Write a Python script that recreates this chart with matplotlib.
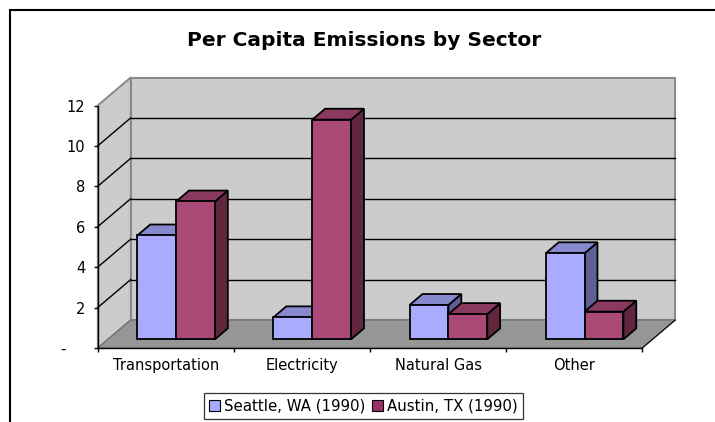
import matplotlib
matplotlib.use("Agg")
import matplotlib.pyplot as plt
from matplotlib.patches import Polygon, Patch, Rectangle
from matplotlib.lines import Line2D

categories = ["Transportation", "Electricity", "Natural Gas", "Other"]
series_names = ["Seattle, WA (1990)", "Austin, TX (1990)"]
seattle = [5.14, 1.09, 1.70, 4.26]
austin = [6.82, 10.87, 1.25, 1.37]
y_ticks = [0, 2, 4, 6, 8, 10, 12]
y_tick_labels = ["-    ", "2", "4", "6", "8", "10", "12"]
title = "Per Capita Emissions by Sector"

W, H = 715, 422
fig = plt.figure(figsize=(W / 100, H / 100), dpi=100)
fig.patch.set_facecolor("white")

# front plane of the plot area in pixels
x_left, x_right = 97.7, 642.3
y_zero, y_top = 348.0, 105.5
ax = fig.add_axes([x_left / W, (H - y_zero) / H, (x_right - x_left) / W, (y_zero - y_top) / H])
ncat = len(categories)
ymax = 12
ax.set_xlim(0, ncat)
ax.set_ylim(0, ymax)
ax.patch.set_visible(False)

px_per_cat = (x_right - x_left) / ncat
px_per_unit = (y_zero - y_top) / ymax
DX = 33.0 / px_per_cat      # depth offset in data units
DY = 28.0 / px_per_unit

wall_col = "#cccccc"
floor_col = "#969696"
edge_col = "#8a8a8a"

def poly(pts, fc, ec, lw=1.0, z=1):
    p = Polygon(pts, closed=True, facecolor=fc, edgecolor=ec, linewidth=lw,
                clip_on=False, zorder=z, joinstyle="miter")
    ax.add_patch(p)

# walls and floor
poly([(0, 0), (DX, DY), (DX, ymax + DY), (0, ymax)], wall_col, edge_col, 1.2, 1)
poly([(DX, DY), (ncat + DX, DY), (ncat + DX, ymax + DY), (DX, ymax + DY)], wall_col, edge_col, 1.5, 1)
poly([(0, 0), (ncat, 0), (ncat + DX, DY), (DX, DY)], floor_col, "#6e6e6e", 0.8, 1)
ax.add_line(Line2D([ncat, ncat + DX], [0, DY], color="black", lw=0.8, clip_on=False, zorder=2))

# gridlines
for v in y_ticks[1:-1]:
    ax.add_line(Line2D([DX, ncat + DX], [v + DY, v + DY], color="black", lw=1.0, clip_on=False, zorder=2))
    ax.add_line(Line2D([0, DX], [v, v + DY], color="black", lw=1.0, clip_on=False, zorder=2))
ax.add_line(Line2D([0, DX], [ymax, ymax + DY], color=edge_col, lw=1.2, clip_on=False, zorder=2))

# bars
f0, f1 = 0.31, 0.70
gap = 0.216
bw = 0.285
colors = [
    ("#a9abff", "#8789cf", "#5f6096"),
    ("#aa4876", "#8a3a5f", "#62263f"),
]
for i in range(ncat):
    for j, vals in enumerate([seattle, austin]):
        v = vals[i]
        fc, tc, sc = colors[j]
        x0 = i + gap + j * bw + f0 * DX
        x1 = x0 + bw
        b0 = f0 * DY
        ddx = (f1 - f0) * DX
        ddy = (f1 - f0) * DY
        z = 3 + i * 2 + j
        poly([(x1, b0), (x1 + ddx, b0 + ddy), (x1 + ddx, b0 + ddy + v), (x1, b0 + v)], sc, "black", 1.3, z)
        poly([(x0, b0 + v), (x1, b0 + v), (x1 + ddx, b0 + v + ddy), (x0 + ddx, b0 + v + ddy)], tc, "black", 1.3, z)
        poly([(x0, b0), (x1, b0), (x1, b0 + v), (x0, b0 + v)], fc, "black", 1.3, z)

# axes and ticks
for s in ["top", "right"]:
    ax.spines[s].set_visible(False)
for s in ["left", "bottom"]:
    ax.spines[s].set_color("black")
    ax.spines[s].set_linewidth(1.0)
    ax.spines[s].set_zorder(20)
ax.set_yticks(y_ticks)
ax.set_yticklabels(y_tick_labels)
ax.tick_params(axis="y", direction="out", length=3, width=1, pad=6, labelsize=10.5, colors="black")
ax.set_xticks(range(ncat + 1))
ax.set_xticklabels([])
ax.tick_params(axis="x", which="major", direction="out", length=3, width=1)
ax.set_xticks([i + 0.5 for i in range(ncat)], minor=True)
ax.set_xticklabels(categories, minor=True)
ax.tick_params(axis="x", which="minor", length=0, pad=7, labelsize=10.5)

# title
fig.text(364 / W, 1 - 41 / H, title, ha="center", va="center", fontsize=14.5, fontweight="bold")

# legend
handles = [Patch(facecolor="#a9abff", edgecolor="black", linewidth=0.8),
           Patch(facecolor="#993366", edgecolor="black", linewidth=0.8)]
leg = fig.legend(handles, series_names, loc="center", bbox_to_anchor=(363.5 / W, 1 - 406 / H),
                 ncol=2, fontsize=10.8, frameon=True, fancybox=False, edgecolor="black",
                 handlelength=0.7, handleheight=0.7, handletextpad=0.3, columnspacing=0.45,
                 borderpad=0.35, borderaxespad=0)
leg.get_frame().set_linewidth(0.9)

# chart border (cropped at right/bottom)
fig.add_artist(Rectangle((10 / W, -0.2), 1.5, (H - 10) / H + 0.2, transform=fig.transFigure,
                         fill=False, edgecolor="black", linewidth=1.5))

fig.savefig("out.png", dpi=100)
